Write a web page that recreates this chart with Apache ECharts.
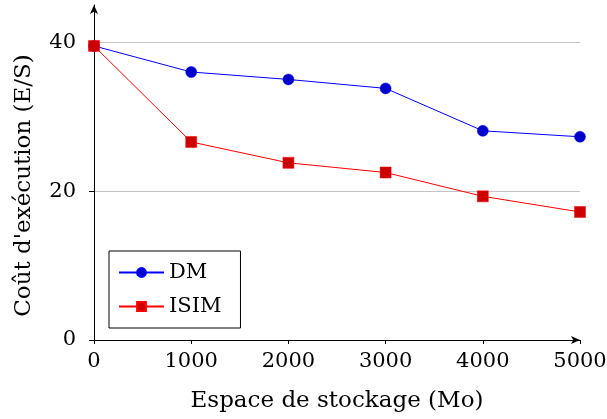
<!DOCTYPE html>
<html>
<head>
<meta charset="utf-8">
<script src="https://cdn.jsdelivr.net/npm/echarts@6/dist/echarts.min.js"></script>
<style>
  html, body { margin: 0; padding: 0; background: #fff; }
  #chart { width: 607px; height: 419px; }
</style>
</head>
<body>
<div id="chart"></div>
<script>
// storage space (Mo)
const espace = [0, 1000, 2000, 3000, 4000, 5000];
// execution cost (E/S)
const coutDM = [39.5, 36.0, 35.0, 33.8, 28.1, 27.3];
const coutISIM = [39.5, 26.6, 23.8, 22.5, 19.3, 17.2];
const yTicks = [0, 20, 40];
const xTicks = [0, 1000, 2000, 3000, 4000, 5000];

const font = "DejaVu Serif";

function pairs(xs, ys) {
  return xs.map((x, i) => [x, ys[i]]);
}

const chart = echarts.init(document.getElementById("chart"), null, { renderer: "canvas" });

const option = {
  backgroundColor: "#fff",
  animation: false,
  textStyle: { fontFamily: font },
  grid: { left: 94, right: 27, top: 5, bottom: 79, outerBoundsMode: "none", containLabel: false },
  legend: {
    left: 109,
    top: 251,
    orient: "vertical",
    backgroundColor: "#fff",
    borderColor: "#000",
    borderWidth: 1,
    borderRadius: 0,
    padding: [11, 19, 11, 9],
    itemGap: 13,
    itemWidth: 45,
    itemHeight: 11,
    textStyle: { fontFamily: font, fontSize: 21, color: "#000" },
    data: ["DM", "ISIM"]
  },
  xAxis: {
    type: "value",
    min: 0,
    max: 5000,
    interval: 1000,
    name: "Espace de stockage (Mo)",
    nameLocation: "middle",
    nameGap: 50,
    nameTextStyle: { fontFamily: font, fontSize: 23, color: "#000" },
    axisLine: { onZero: false, symbol: ["none", "arrow"], symbolSize: [6, 9], lineStyle: { color: "#000", width: 1 } },
    axisTick: { show: true, length: 4, customValues: xTicks, lineStyle: { color: "#000" } },
    axisLabel: {
      customValues: xTicks,
      formatter: v => String(v),
      fontFamily: font, fontSize: 21, color: "#000", margin: 11
    },
    splitLine: { show: false }
  },
  yAxis: {
    type: "value",
    min: 0,
    max: 45,
    interval: 20,
    name: "Coût d'exécution (E/S)",
    nameLocation: "middle",
    nameGap: 58,
    nameTextStyle: { fontFamily: font, fontSize: 23, color: "#000", padding: [0, 26, 0, 0] },
    axisLine: { show: true, onZero: false, symbol: ["none", "arrow"], symbolSize: [6, 9], lineStyle: { color: "#000", width: 1 } },
    axisTick: { show: true, length: 5, customValues: yTicks, lineStyle: { color: "#000" } },
    axisLabel: { customValues: yTicks, fontFamily: font, fontSize: 21, color: "#000", margin: 18 },
    splitLine: { show: true, showMinLine: false, showMaxLine: true, lineStyle: { color: "#c4c4c4", width: 1 } }
  },
  series: [
    {
      name: "DM",
      type: "line",
      data: pairs(espace, coutDM),
      symbol: "circle",
      symbolSize: 11,
      lineStyle: { color: "#0000ff", width: 1 },
      itemStyle: { color: "#0000cc", borderColor: "#0000ff", borderWidth: 0.5 },
      z: 2
    },
    {
      name: "ISIM",
      type: "line",
      data: pairs(espace, coutISIM),
      symbol: "rect",
      symbolSize: 11,
      lineStyle: { color: "#ff0000", width: 1 },
      itemStyle: { color: "#cc0000", borderColor: "#ff0000", borderWidth: 0.5 },
      z: 3
    }
  ]
};

chart.setOption(option);
</script>
</body>
</html>
